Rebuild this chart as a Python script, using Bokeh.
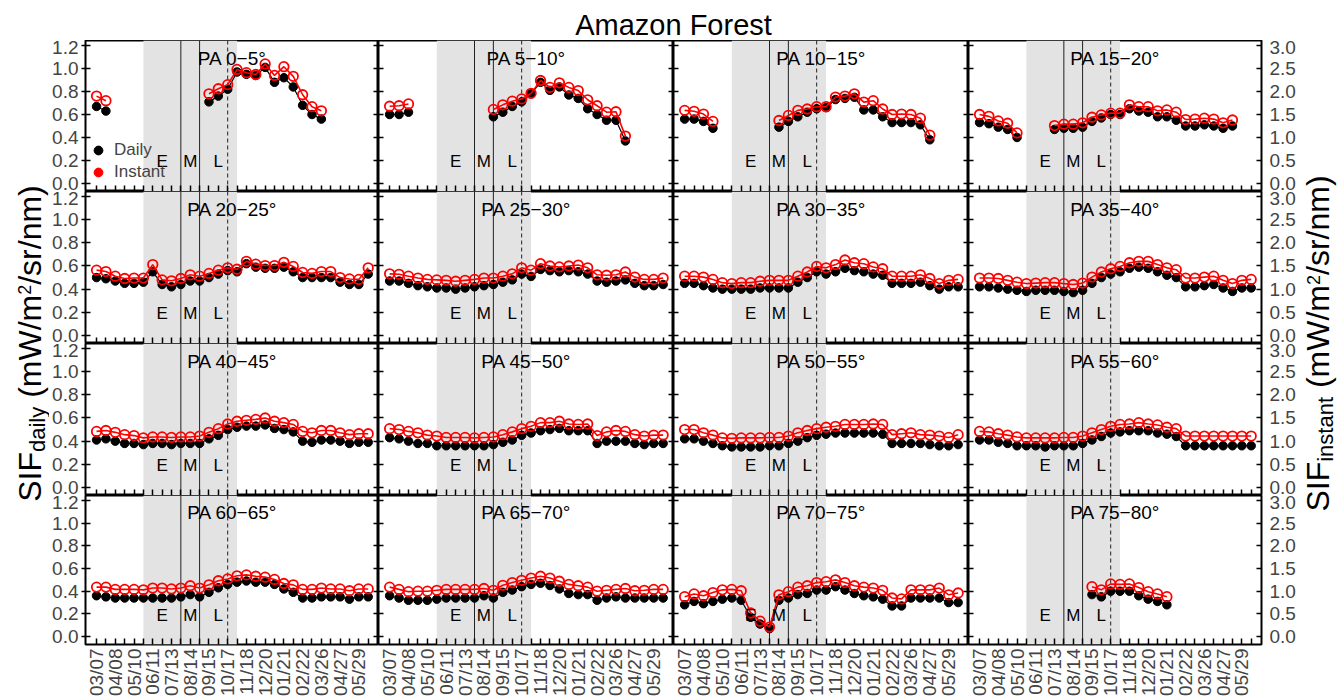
import math
import numpy as np
from bokeh.plotting import figure
from bokeh.models import (Range1d, LinearAxis, FixedTicker, Label, BoxAnnotation,
                          Span, Legend, LegendItem, ColumnDataSource)
from bokeh.layouts import gridplot, row, column
from bokeh.embed import file_html
from bokeh.resources import INLINE

nan = float("nan")
FONT = "Liberation Sans"

# ---------------- data ----------------
date_labels = ["03/07", "04/08", "05/10", "06/11", "07/13", "08/14", "09/15", "10/17",
               "11/18", "12/20", "01/21", "02/22", "03/26", "04/27", "05/29"]
composite_index = list(range(30))          # 16-day composites
left_ticks = [0.0, 0.2, 0.4, 0.6, 0.8, 1.0, 1.2]
left_tick_labels = ["0.0", "0.2", "0.4", "0.6", "0.8", "1.0", "1.2"]
right_ticks = [0.0, 0.5, 1.0, 1.5, 2.0, 2.5, 3.0]
right_tick_labels = ["0.0", "0.5", "1.0", "1.5", "2.0", "2.5", "3.0"]
season_labels = ["E", "M", "L"]

pa_titles = ["PA 0\u22125\u00b0", "PA 5\u221210\u00b0", "PA 10\u221215\u00b0", "PA 15\u221220\u00b0",
             "PA 20\u221225\u00b0", "PA 25\u221230\u00b0", "PA 30\u221235\u00b0", "PA 35\u221240\u00b0",
             "PA 40\u221245\u00b0", "PA 45\u221250\u00b0", "PA 50\u221255\u00b0", "PA 55\u221260\u00b0",
             "PA 60\u221265\u00b0", "PA 65\u221270\u00b0", "PA 70\u221275\u00b0", "PA 75\u221280\u00b0"]

daily_00_05 = [0.67, 0.63, nan, nan, nan, nan, nan, nan, nan, nan, nan, nan, 0.71, 0.76, 0.82,
               0.97, 0.95, 0.94, 1.01, 0.88, 0.92, 0.84, 0.68, 0.60, 0.56, nan, nan, nan, nan, nan]
instant_00_05 = [1.90, 1.80, nan, nan, nan, nan, nan, nan, nan, nan, nan, nan, 1.95, 2.06, 2.15,
                 2.48, 2.41, 2.37, 2.60, 2.35, 2.54, 2.33, 1.93, 1.67, 1.58, nan, nan, nan, nan, nan]

daily_05_10 = [0.60, 0.60, 0.62, nan, nan, nan, nan, nan, nan, nan, nan, 0.58, 0.62, 0.67, 0.71,
               0.78, 0.88, 0.81, 0.84, 0.77, 0.74, 0.65, 0.60, 0.55, 0.55, 0.37, nan, nan, nan, nan]
instant_05_10 = [1.68, 1.69, 1.73, nan, nan, nan, nan, nan, nan, nan, nan, 1.61, 1.71, 1.79, 1.84,
                 1.96, 2.24, 2.09, 2.19, 2.09, 2.02, 1.82, 1.69, 1.55, 1.56, 1.03, nan, nan, nan, nan]

daily_10_15 = [0.56, 0.56, 0.54, 0.48, nan, nan, nan, nan, nan, nan, 0.49, 0.54, 0.58, 0.62, 0.65,
               0.66, 0.73, 0.74, 0.75, 0.64, 0.64, 0.58, 0.53, 0.53, 0.53, 0.51, 0.38, nan, nan, nan]
instant_10_15 = [1.59, 1.57, 1.51, 1.35, nan, nan, nan, nan, nan, nan, 1.37, 1.48, 1.59, 1.62, 1.67,
                 1.67, 1.88, 1.90, 1.95, 1.77, 1.80, 1.62, 1.50, 1.51, 1.50, 1.42, 1.05, nan, nan, nan]

daily_15_20 = [0.53, 0.52, 0.49, 0.47, 0.40, nan, nan, nan, 0.47, 0.48, 0.48, 0.49, 0.54, 0.57, 0.60,
               0.60, 0.65, 0.63, 0.62, 0.58, 0.58, 0.55, 0.50, 0.50, 0.51, 0.50, 0.48, 0.50, nan, nan]
instant_15_20 = [1.50, 1.46, 1.36, 1.31, 1.10, nan, nan, nan, 1.26, 1.29, 1.29, 1.32, 1.44, 1.49, 1.53,
                 1.53, 1.71, 1.67, 1.67, 1.58, 1.60, 1.55, 1.39, 1.40, 1.42, 1.40, 1.32, 1.38, nan, nan]

daily_20_25 = [0.50, 0.49, 0.47, 0.45, 0.45, 0.46, 0.55, 0.44, 0.42, 0.44, 0.47, 0.47, 0.50, 0.53, 0.56,
               0.55, 0.62, 0.59, 0.58, 0.58, 0.59, 0.55, 0.50, 0.50, 0.50, 0.50, 0.46, 0.44, 0.44, 0.53]
instant_20_25 = [1.41, 1.38, 1.28, 1.23, 1.24, 1.24, 1.53, 1.20, 1.18, 1.23, 1.31, 1.28, 1.34, 1.41, 1.46,
                 1.43, 1.60, 1.54, 1.51, 1.51, 1.58, 1.49, 1.36, 1.34, 1.38, 1.38, 1.25, 1.22, 1.21, 1.46]

daily_25_30 = [0.47, 0.47, 0.45, 0.43, 0.42, 0.41, 0.41, 0.40, 0.41, 0.42, 0.43, 0.44, 0.46, 0.48, 0.53,
               0.51, 0.57, 0.56, 0.55, 0.56, 0.55, 0.53, 0.47, 0.46, 0.47, 0.48, 0.45, 0.43, 0.43, 0.44]
instant_25_30 = [1.33, 1.32, 1.28, 1.24, 1.21, 1.20, 1.19, 1.17, 1.19, 1.21, 1.24, 1.24, 1.28, 1.33, 1.46,
                 1.41, 1.55, 1.50, 1.48, 1.50, 1.52, 1.46, 1.31, 1.30, 1.31, 1.37, 1.26, 1.21, 1.21, 1.24]

daily_30_35 = [0.45, 0.45, 0.43, 0.41, 0.40, 0.40, 0.40, 0.40, 0.41, 0.41, 0.41, 0.41, 0.46, 0.50, 0.55,
               0.53, 0.55, 0.58, 0.56, 0.55, 0.53, 0.52, 0.45, 0.45, 0.45, 0.46, 0.43, 0.40, 0.42, 0.42]
instant_30_35 = [1.28, 1.28, 1.26, 1.21, 1.14, 1.12, 1.14, 1.14, 1.17, 1.19, 1.19, 1.19, 1.28, 1.37, 1.49,
                 1.46, 1.53, 1.63, 1.57, 1.55, 1.48, 1.44, 1.28, 1.28, 1.28, 1.31, 1.23, 1.12, 1.19, 1.21]

daily_35_40 = [0.42, 0.42, 0.41, 0.40, 0.39, 0.38, 0.39, 0.39, 0.39, 0.38, 0.37, 0.39, 0.45, 0.50, 0.53,
               0.55, 0.58, 0.59, 0.58, 0.55, 0.52, 0.50, 0.42, 0.42, 0.43, 0.44, 0.41, 0.38, 0.41, 0.41]
instant_35_40 = [1.24, 1.24, 1.23, 1.19, 1.15, 1.12, 1.13, 1.14, 1.14, 1.12, 1.10, 1.13, 1.26, 1.37, 1.44,
                 1.49, 1.57, 1.60, 1.60, 1.53, 1.46, 1.42, 1.24, 1.24, 1.26, 1.28, 1.19, 1.12, 1.19, 1.21]

daily_40_45 = [0.41, 0.42, 0.40, 0.38, 0.38, 0.37, 0.38, 0.38, 0.37, 0.38, 0.38, 0.38, 0.42, 0.45, 0.50,
               0.52, 0.53, 0.53, 0.54, 0.51, 0.50, 0.48, 0.40, 0.39, 0.41, 0.41, 0.40, 0.38, 0.39, 0.39]
instant_40_45 = [1.21, 1.23, 1.19, 1.14, 1.12, 1.07, 1.09, 1.09, 1.08, 1.09, 1.09, 1.11, 1.19, 1.27, 1.37,
                 1.43, 1.45, 1.47, 1.50, 1.43, 1.40, 1.36, 1.21, 1.18, 1.23, 1.23, 1.18, 1.14, 1.16, 1.16]

daily_45_50 = [0.43, 0.42, 0.40, 0.38, 0.38, 0.36, 0.36, 0.36, 0.36, 0.36, 0.36, 0.37, 0.39, 0.41, 0.45,
               0.47, 0.49, 0.50, 0.51, 0.49, 0.49, 0.49, 0.38, 0.40, 0.40, 0.40, 0.38, 0.37, 0.38, 0.38]
instant_45_50 = [1.27, 1.25, 1.21, 1.18, 1.13, 1.11, 1.08, 1.08, 1.08, 1.07, 1.08, 1.09, 1.14, 1.20, 1.27,
                 1.32, 1.40, 1.40, 1.43, 1.37, 1.36, 1.37, 1.12, 1.20, 1.23, 1.21, 1.14, 1.11, 1.13, 1.13]

daily_50_55 = [0.42, 0.42, 0.40, 0.38, 0.36, 0.35, 0.35, 0.35, 0.35, 0.36, 0.36, 0.38, 0.40, 0.43, 0.45,
               0.46, 0.47, 0.47, 0.47, 0.47, 0.47, 0.46, 0.38, 0.38, 0.38, 0.38, 0.37, 0.36, 0.36, 0.37]
instant_50_55 = [1.25, 1.25, 1.18, 1.13, 1.07, 1.06, 1.07, 1.07, 1.07, 1.08, 1.08, 1.11, 1.18, 1.23, 1.27,
                 1.30, 1.32, 1.36, 1.36, 1.36, 1.37, 1.36, 1.14, 1.16, 1.18, 1.14, 1.13, 1.11, 1.08, 1.14]

daily_55_60 = [0.41, 0.41, 0.39, 0.38, 0.36, 0.36, 0.36, 0.35, 0.36, 0.36, 0.36, 0.38, 0.41, 0.44, 0.47,
               0.48, 0.49, 0.49, 0.49, 0.47, 0.46, 0.44, 0.36, 0.36, 0.36, 0.36, 0.36, 0.36, 0.36, 0.36]
instant_55_60 = [1.21, 1.20, 1.16, 1.13, 1.09, 1.07, 1.07, 1.07, 1.07, 1.08, 1.08, 1.11, 1.18, 1.25, 1.32,
                 1.36, 1.37, 1.40, 1.37, 1.35, 1.30, 1.27, 1.11, 1.11, 1.11, 1.11, 1.11, 1.11, 1.11, 1.11]

daily_60_65 = [0.36, 0.35, 0.34, 0.34, 0.34, 0.34, 0.34, 0.34, 0.34, 0.35, 0.37, 0.35, 0.39, 0.43, 0.46,
               0.48, 0.49, 0.48, 0.48, 0.46, 0.42, 0.39, 0.34, 0.34, 0.35, 0.35, 0.35, 0.33, 0.35, 0.35]
instant_60_65 = [1.09, 1.09, 1.04, 1.04, 1.04, 1.03, 1.07, 1.07, 1.05, 1.07, 1.12, 1.07, 1.14, 1.23, 1.27,
                 1.34, 1.36, 1.33, 1.31, 1.26, 1.17, 1.14, 1.04, 1.04, 1.07, 1.05, 1.05, 1.01, 1.05, 1.05]

daily_65_70 = [0.36, 0.34, 0.32, 0.32, 0.32, 0.33, 0.34, 0.34, 0.34, 0.34, 0.36, 0.34, 0.39, 0.41, 0.44,
               0.46, 0.47, 0.45, 0.42, 0.38, 0.37, 0.37, 0.32, 0.34, 0.35, 0.34, 0.34, 0.34, 0.34, 0.34]
instant_65_70 = [1.09, 1.04, 0.99, 1.00, 1.00, 1.02, 1.04, 1.04, 1.04, 1.04, 1.06, 1.02, 1.13, 1.19, 1.24,
                 1.29, 1.33, 1.29, 1.22, 1.15, 1.12, 1.09, 1.00, 1.02, 1.04, 1.06, 1.01, 1.02, 1.04, 1.04]

daily_70_75 = [0.28, 0.31, 0.29, 0.31, 0.33, 0.34, 0.32, 0.17, 0.11, 0.07, 0.32, 0.34, 0.37, 0.38, 0.41,
               0.41, 0.44, 0.41, 0.38, 0.36, 0.35, 0.33, 0.27, 0.27, 0.34, 0.34, 0.34, 0.34, 0.30, 0.30]
instant_70_75 = [0.88, 0.94, 0.90, 0.97, 1.03, 1.04, 1.01, 0.52, 0.34, 0.21, 0.92, 0.99, 1.09, 1.12, 1.19,
                 1.21, 1.25, 1.19, 1.12, 1.09, 1.07, 1.02, 0.85, 0.83, 1.03, 1.03, 1.03, 1.07, 0.92, 0.96]

daily_75_80 = [nan, nan, nan, nan, nan, nan, nan, nan, nan, nan, nan, nan, 0.37, 0.35, 0.40,
               0.40, 0.40, 0.36, 0.33, 0.31, 0.28, nan, nan, nan, nan, nan, nan, nan, nan, nan]
instant_75_80 = [nan, nan, nan, nan, nan, nan, nan, nan, nan, nan, nan, nan, 1.10, 1.03, 1.16,
                 1.15, 1.16, 1.08, 0.99, 0.94, 0.88, nan, nan, nan, nan, nan, nan, nan, nan, nan]

panels = [
    (pa_titles[0], daily_00_05, instant_00_05), (pa_titles[1], daily_05_10, instant_05_10),
    (pa_titles[2], daily_10_15, instant_10_15), (pa_titles[3], daily_15_20, instant_15_20),
    (pa_titles[4], daily_20_25, instant_20_25), (pa_titles[5], daily_25_30, instant_25_30),
    (pa_titles[6], daily_30_35, instant_30_35), (pa_titles[7], daily_35_40, instant_35_40),
    (pa_titles[8], daily_40_45, instant_40_45), (pa_titles[9], daily_45_50, instant_45_50),
    (pa_titles[10], daily_50_55, instant_50_55), (pa_titles[11], daily_55_60, instant_55_60),
    (pa_titles[12], daily_60_65, instant_60_65), (pa_titles[13], daily_65_70, instant_65_70),
    (pa_titles[14], daily_70_75, instant_70_75), (pa_titles[15], daily_75_80, instant_75_80),
]

# ---------------- layout constants (page pixels) ----------------
FRAME_W = 295
FRAME_H = [151, 152, 152, 151]
B_LEFT, B_RIGHT, B_BOTTOM = 34, 35, 53
TITLE_H = 40
LEFT_W = 49
RIGHT_W = 40
X_START, X_END = -1.18, 30.1
Y_MIN, Y_MAX = -0.07, 1.244
RATIO = 2.5                      # right axis / left axis
SHADE = (5, 15)
SOLID_LINES = [9, 11]
DASH_LINE = 14
SEASON_X = [7, 10, 13]
SEASON_Y = 0.19
TITLE_XY = (14.5, 1.09)


def hide_labels(ax):
    ax.major_label_text_font_size = "0px"
    ax.major_label_text_color = None
    ax.major_label_standoff = 0


def make_panel(i, title, daily, instant):
    r, c = divmod(i, 4)
    bl = B_LEFT if c == 0 else 0
    br = B_RIGHT if c == 3 else 0
    bb = B_BOTTOM if r == 3 else 0
    p = figure(width=FRAME_W + bl + br, height=FRAME_H[r] + bb, title=None,
               x_range=Range1d(X_START, X_END), y_range=Range1d(Y_MIN, Y_MAX),
               x_axis_location=None, y_axis_location=None,
               output_backend="svg", toolbar_location=None,
               min_border_left=bl, min_border_right=br, min_border_top=0,
               min_border_bottom=bb,
               background_fill_color="white", border_fill_color="white")
    p.extra_y_ranges = {"inst": Range1d(Y_MIN * RATIO, Y_MAX * RATIO)}
    p.outline_line_color = "black"
    p.outline_line_width = 2

    # axes
    xa = LinearAxis(ticker=FixedTicker(ticks=composite_index),
                    major_label_overrides={k: (date_labels[k // 2] if k % 2 == 0 else "")
                                           for k in composite_index})
    xa.axis_line_color = None
    xa.major_tick_in = 6
    xa.major_tick_out = 0
    xa.major_tick_line_width = 1.5
    xa.major_label_orientation = math.pi / 2
    xa.major_label_text_font = FONT
    if r == 3:
        xa.major_label_text_font_size = "19px"
        xa.major_label_standoff = 4
    else:
        hide_labels(xa)
    p.add_layout(xa, "below")

    ya = LinearAxis(ticker=FixedTicker(ticks=left_ticks),
                    major_label_overrides=dict(zip(left_ticks, left_tick_labels)))
    ya.axis_line_color = None
    ya.major_tick_in = 5
    ya.major_tick_line_width = 1.5
    ya.major_label_text_font = FONT
    if c == 0:
        ya.major_tick_out = 4
        ya.major_label_text_font_size = "19px"
        ya.major_label_standoff = 3
    else:
        ya.major_tick_out = 0
        hide_labels(ya)
    p.add_layout(ya, "left")

    yr = LinearAxis(y_range_name="inst", ticker=FixedTicker(ticks=right_ticks),
                    major_label_overrides=dict(zip(right_ticks, right_tick_labels)))
    yr.axis_line_color = None
    yr.major_tick_in = 5
    yr.major_tick_out = 0
    yr.major_tick_line_width = 1.5
    yr.major_label_text_font = FONT
    if c == 3:
        yr.major_label_text_font_size = "19px"
        yr.major_label_standoff = 8
    else:
        hide_labels(yr)
    p.add_layout(yr, "right")
    p.grid.visible = False

    # season shading and markers
    p.add_layout(BoxAnnotation(left=SHADE[0], right=SHADE[1], fill_color="#e3e3e3",
                               fill_alpha=1.0, line_color=None, level="underlay"))
    for xs in SOLID_LINES:
        p.add_layout(Span(location=xs, dimension="height", line_color="#222222",
                          line_width=1, level="underlay"))
    p.add_layout(Span(location=DASH_LINE, dimension="height", line_color="#222222",
                      line_width=1, line_dash="4 3", level="underlay"))

    src = ColumnDataSource(dict(x=composite_index,
                                daily=np.array(daily, dtype=float),
                                instant=np.array(instant, dtype=float)))
    p.line("x", "daily", source=src, line_color="black", line_width=1.2)
    p.scatter("x", "daily", source=src, size=8.5, marker="circle",
              fill_color="black", line_color="black")
    p.line("x", "instant", source=src, y_range_name="inst", line_color="#ff0000", line_width=1.6)
    p.scatter("x", "instant", source=src, y_range_name="inst", size=9.5, marker="circle",
              fill_color=None, line_color="#ff0000", line_width=1.8)

    for sx, st in zip(SEASON_X, season_labels):
        p.add_layout(Label(x=sx, y=SEASON_Y, text=st, text_align="center",
                           text_baseline="middle", text_font=FONT,
                           text_font_size="17px", text_color="black"))
    p.add_layout(Label(x=TITLE_XY[0], y=TITLE_XY[1], text=title, text_align="center",
                       text_baseline="middle", text_font=FONT, text_font_size="19px",
                       text_color="black"))

    if i == 0:
        r_d = p.scatter([nan], [nan], size=9, marker="circle", fill_color="black", line_color="black")
        r_i = p.scatter([nan], [nan], size=9, marker="circle", fill_color="#ff0000", line_color="#ff0000")
        leg = Legend(items=[LegendItem(label="Daily", renderers=[r_d]),
                            LegendItem(label="Instant", renderers=[r_i])],
                     location=(2, 8), background_fill_alpha=0, border_line_color=None,
                     padding=0, margin=0, spacing=0, glyph_width=22, glyph_height=22,
                     label_height=22, label_standoff=5, label_text_font=FONT,
                     label_text_font_size="17px")
        p.add_layout(leg)
    return p


panel_figs = [make_panel(i, t, d, s) for i, (t, d, s) in enumerate(panels)]
grid = gridplot([panel_figs[k:k + 4] for k in range(0, 16, 4)], toolbar_location=None)

GRID_H = sum(FRAME_H) + B_BOTTOM
TOTAL_W = LEFT_W + B_LEFT + 4 * FRAME_W + B_RIGHT + RIGHT_W

# ---------- axis titles with sub/superscripts ----------
ARIAL = {'S': .667, 'I': .278, 'F': .611, 'd': .556, 'a': .556, 'i': .222, 'l': .222, 'y': .5,
         ' ': .278, '(': .333, 'm': .833, 'W': .944, '/': .278, '2': .556, 's': .5, 'r': .333,
         'n': .556, ')': .333, 't': .278}


def text_w(s, size):
    return sum(ARIAL[ch] for ch in s) * size


def side_title(width, sub, x_mid, main=32, small=22, sup=18, sub_shift=8, sup_shift=-5):
    f = figure(width=width, height=GRID_H, title=None,
               x_range=Range1d(0, width), y_range=Range1d(0, GRID_H),
               x_axis_location=None, y_axis_location=None, min_border=0,
               output_backend="svg", toolbar_location=None, outline_line_color=None)
    f.grid.visible = False
    # (text, size, perpendicular shift, gap before)
    pieces = [("SIF", main, 0, 0), (sub, small, sub_shift, 0),
              ("(mW/m", main, 0, text_w(" ", main)),
              ("2", sup, sup_shift, 0), ("/sr/nm)", main, 0, 0)]
    total = sum(text_w(t, s) + g for t, s, _, g in pieces)
    center = GRID_H - (sum(FRAME_H) / 2.0)
    y = center - total / 2.0
    for t, s, dx, g in pieces:
        y += g
        f.add_layout(Label(x=x_mid + dx, y=y, text=t, angle=math.pi / 2, text_align="left",
                           text_baseline="middle", text_font=FONT,
                           text_font_size=f"{s}px", text_color="black"))
        y += text_w(t, s)
    return f


left_fig = side_title(LEFT_W, "daily", 29, sub_shift=8)
right_fig = side_title(RIGHT_W, "instant", 19.5, sub_shift=7.5)

title_fig = figure(width=TOTAL_W, height=TITLE_H, title=None, x_range=Range1d(0, TOTAL_W),
                   y_range=Range1d(0, TITLE_H), x_axis_location=None, y_axis_location=None,
                   min_border=0, output_backend="svg", toolbar_location=None,
                   outline_line_color=None)
title_fig.grid.visible = False
title_fig.add_layout(Label(x=LEFT_W + B_LEFT + 2 * FRAME_W, y=16, text="Amazon Forest",
                           text_align="center", text_baseline="middle", text_font=FONT,
                           text_font_size="29px", text_color="black"))

layout = column(title_fig, row(left_fig, grid, right_fig))

open("out.html", "w").write(file_html(layout, INLINE, "Amazon Forest"))
